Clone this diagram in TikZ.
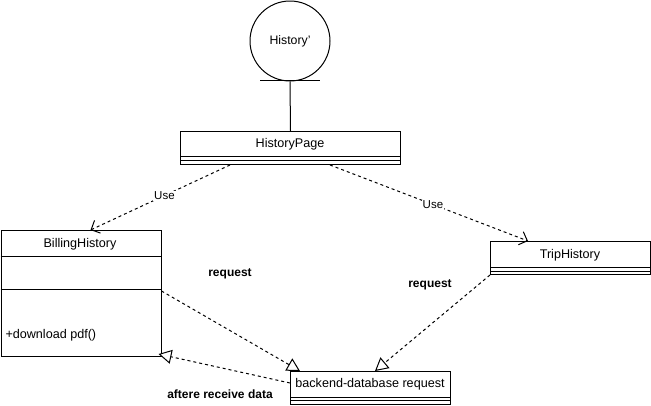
\documentclass[tikz,border=0pt]{standalone}
\usepackage{fontspec}
\setmainfont{Liberation Sans}
\usetikzlibrary{arrows.meta,calc}
\begin{document}
\begin{tikzpicture}[x=1pt,y=-1pt,
  line width=1pt,
  cls/.style={draw,anchor=north west,inner sep=0pt},
  txt/.style={font=\fontsize{12.6}{15}\selectfont,inner sep=0pt},
  dep/.style={dash pattern=on 3pt off 3pt,-{Straight Barb[length=7pt,width=14pt,line width=1pt]}},
  real/.style={dash pattern=on 3pt off 3pt,-{Triangle[open,length=13pt,width=14pt,line width=1pt,fill=white]}},
  lbl/.style={font=\fontsize{11.5}{13}\selectfont,fill=white,inner sep=1pt},
  blbl/.style={font=\bfseries\fontsize{12}{14}\selectfont,inner sep=1pt}]
\useasboundingbox (0,0) rectangle (651,405);
% actor
\node[draw,circle,minimum size=80pt,inner sep=0pt,font=\fontsize{12.3}{14}\selectfont] (act) at (290,41) {History'};
\coordinate (actl) at (260,80);
\coordinate (actr) at (320,80);
\draw (actl) -- (actr);
% HistoryPage
\node[cls,minimum width=220pt,minimum height=33pt] (hp) at (180,131) {};
\node[txt] (hpt) at (290,144) {HistoryPage};
\draw ([yshift=-25pt]hp.north west) -- ([yshift=-25pt]hp.north east);
\draw ([yshift=-29pt]hp.north west) -- ([yshift=-29pt]hp.north east);
\draw (act.south) -- (hp.north);
% BillingHistory
\node[cls,minimum width=160pt,minimum height=126pt] (bh) at (0.5,230) {};
\node[txt] (bht) at (80,244) {BillingHistory};
\draw ([yshift=-26pt]bh.north west) -- ([yshift=-26pt]bh.north east);
\draw ([yshift=-59pt]bh.north west) -- ([yshift=-59pt]bh.north east);
\node[txt,anchor=west] (bhm) at (5,335) {+download pdf()};
% TripHistory
\node[cls,minimum width=160pt,minimum height=33pt] (th) at (490,241) {};
\node[txt] (tht) at (570,255) {TripHistory};
\draw ([yshift=-26pt]th.north west) -- ([yshift=-26pt]th.north east);
\draw ([yshift=-30pt]th.north west) -- ([yshift=-30pt]th.north east);
% backend
\node[cls,minimum width=160pt,minimum height=33pt] (bd) at (290,371) {};
\node[txt] (bdt) at (370,384) {backend-database request};
\draw ([yshift=-26pt]bd.north west) -- ([yshift=-26pt]bd.north east);
\draw ([yshift=-29pt]bd.north west) -- ([yshift=-29pt]bd.north east);
% connectors
\draw[dep] ([xshift=50pt]hp.south west) -- node[lbl,pos=0.47] {Use} ([xshift=90pt]bh.north west);
\draw[dep] ([xshift=150pt]hp.south west) -- node[lbl,pos=0.52] {Use} ([xshift=38pt]th.north west);
\draw[real] ([yshift=-61pt]bh.north east) -- ([xshift=10pt]bd.north west);
\draw[real] (th.south west) -- ([xshift=85pt]bd.north west);
\draw[real] ([yshift=-12pt]bd.north west) -- ([xshift=-3pt,yshift=3pt]bh.south east);
% labels
\node[blbl] (l1) at (230,274) {request};
\node[blbl] (l2) at (430,285) {request};
\node[blbl] (l3) at (220,394) {aftere receive data};
\end{tikzpicture}
\end{document}
